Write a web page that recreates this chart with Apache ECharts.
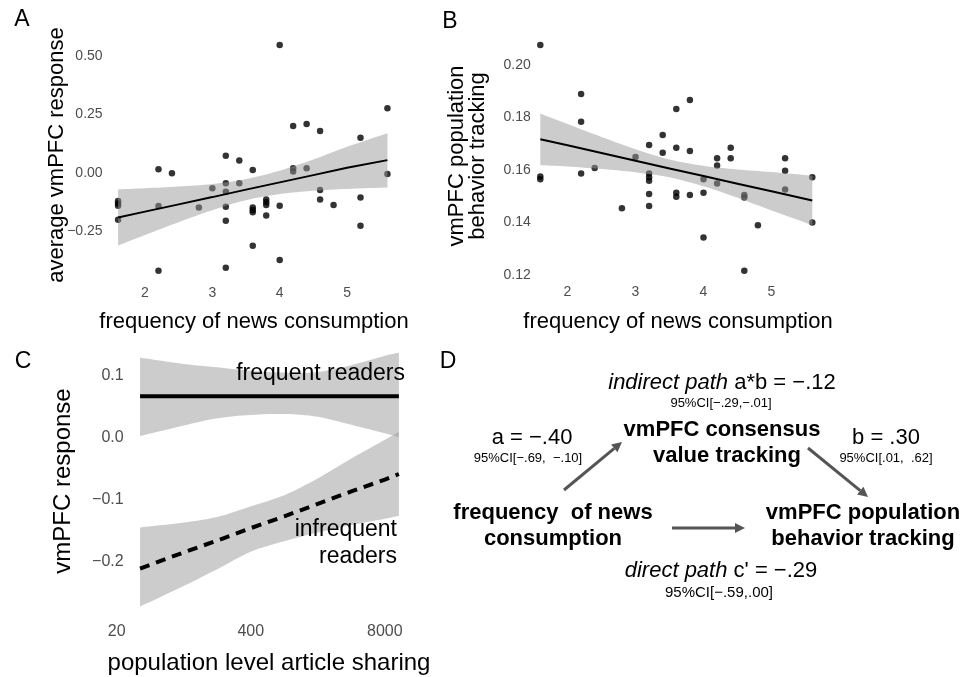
<!DOCTYPE html>
<html><head><meta charset="utf-8">
<script src="https://cdn.jsdelivr.net/npm/echarts@6/dist/echarts.min.js"></script>
<style>html,body{margin:0;padding:0;background:#fff}#c{width:969px;height:677px}</style>
</head><body><div id="c"></div>
<script>
// ---------- Panel A: frequency of news consumption vs average vmPFC response ----------
const aNewsFreq = [1.6,1.6,1.6,1.6,2.2,2.2,2.2,2.4,2.8,3.0,3.2,3.2,3.2,3.2,3.2,3.2,3.4,3.4,3.6,3.6,3.6,3.6,3.6,3.8,3.8,3.8,3.8,4.0,4.0,4.0,4.2,4.2,4.2,4.4,4.4,4.6,4.6,4.6,4.8,5.2,5.2,5.2,5.6,5.6];
const aResponse = [-0.12,-0.13,-0.14,-0.20,0.016,-0.141,-0.418,-0.001,-0.147,-0.065,0.074,-0.044,-0.080,-0.144,-0.204,-0.405,0.053,-0.044,0.013,-0.147,-0.158,-0.168,-0.311,-0.113,-0.125,-0.137,-0.182,0.547,-0.140,-0.372,0.201,0.020,0.006,0.209,0.020,0.180,-0.073,-0.113,-0.137,0.151,-0.105,-0.225,0.277,-0.004];
const fitX = [1.6,2.0,2.5,3.0,3.5,4.0,4.5,5.0,5.6];
const aFit   = [-0.19,-0.165,-0.134,-0.103,-0.071,-0.040,-0.009,0.022,0.055];
const aUpper = [-0.07,-0.065,-0.058,-0.047,-0.026,0.010,0.058,0.112,0.170];
const aLower = [-0.31,-0.265,-0.210,-0.159,-0.116,-0.090,-0.076,-0.068,-0.062];
const aTicksX = [2,3,4,5];
const aTicksY = [-0.25,0,0.25,0.5];

// ---------- Panel B: frequency of news consumption vs vmPFC population behavior tracking ----------
const bNewsFreq = [1.6,1.6,1.6,2.2,2.2,2.2,2.4,2.8,3.0,3.2,3.2,3.2,3.2,3.2,3.2,3.4,3.4,3.6,3.6,3.6,3.6,3.8,3.8,3.8,4.0,4.0,4.0,4.2,4.2,4.2,4.4,4.4,4.6,4.6,4.6,4.8,5.2,5.2,5.2,5.6,5.6];
const bTracking = [0.2076,0.1575,0.1565,0.189,0.1784,0.1587,0.1608,0.1454,0.165,0.1695,0.1587,0.1572,0.1559,0.1509,0.1463,0.1733,0.1666,0.1832,0.1685,0.1513,0.1498,0.1867,0.1672,0.1505,0.1565,0.1513,0.1343,0.1645,0.1617,0.1549,0.1685,0.1645,0.1505,0.1495,0.1216,0.139,0.1645,0.1597,0.1526,0.1572,0.140];
const bFit   = [0.1717,0.1694,0.1665,0.1635,0.1606,0.1577,0.1548,0.1519,0.1484];
const bUpper = [0.1815,0.1775,0.1726,0.1679,0.1640,0.1616,0.1602,0.1592,0.1578];
const bLower = [0.1619,0.1613,0.1604,0.1591,0.1572,0.1538,0.1494,0.1446,0.1390];
const bTicksX = [2,3,4,5];
const bTicksY = [0.12,0.14,0.16,0.18,0.20];

// ---------- Panel C: population level article sharing (log) vs vmPFC response ----------
const sharing = [33.7,89.4,189,400,846,1789,3783,8000,10950];
const freqFit   = [0.066,0.066,0.066,0.066,0.066,0.066,0.066,0.066,0.066];
const freqUpper = [0.128,0.118,0.1125,0.107,0.104,0.105,0.116,0.131,0.136];
const freqLower = [0.002,0.019,0.0305,0.036,0.0375,0.033,0.020,0.0065,0.000];
const infreqFit   = [-0.211,-0.185,-0.166,-0.146,-0.127,-0.107,-0.087,-0.068,-0.059];
const infreqUpper = [-0.145,-0.137,-0.128,-0.111,-0.093,-0.066,-0.034,-0.004,0.009];
const infreqLower = [-0.272,-0.239,-0.212,-0.184,-0.167,-0.153,-0.141,-0.131,-0.126];
const cTicksX = [20,400,8000];
const cTicksY = [-0.2,-0.1,0,0.1];

const FONT = '"Liberation Sans", Arial, Helvetica, sans-serif';
const BAND = 'rgba(153,153,153,0.5)';
const minus = s => s.replace('-', '\u2212');
const near = (v, list) => list.some(t => Math.abs(v - t) <= 1e-6 * Math.max(1, Math.abs(t)));

function pairs(xs, ys){ return xs.map((x,i)=>[x, ys[i]]); }

// Catmull-Rom smoothing of pixel points (visual only)
function smoothPts(p){
  const out=[];
  for(let i=0;i<p.length-1;i++){
    const p0=p[Math.max(0,i-1)], p1=p[i], p2=p[i+1], p3=p[Math.min(p.length-1,i+2)];
    for(let k=0;k<8;k++){
      const t=k/8, t2=t*t, t3=t2*t;
      out.push([0,1].map(d=>0.5*((2*p1[d])+(-p0[d]+p2[d])*t+(2*p0[d]-5*p1[d]+4*p2[d]-p3[d])*t2+(-p0[d]+3*p1[d]-3*p2[d]+p3[d])*t3)));
    }
  }
  out.push(p[p.length-1]);
  return out;
}
function band(idx, xs, lo, hi){
  return {type:'custom', xAxisIndex:idx, yAxisIndex:idx, z:2, silent:true,
    data: xs.map((x,i)=>[x, lo[i], hi[i]]),
    encode:{x:0, y:[1,2]},
    renderItem:function(params, api){
      if(params.dataIndex!==0) return null;
      const up = smoothPts(xs.map((x,i)=>api.coord([x, hi[i]])));
      const dn = smoothPts(xs.map((x,i)=>api.coord([x, lo[i]]))).reverse();
      return {type:'polygon', shape:{points:up.concat(dn)}, style:{fill:BAND}};
    }};
}
const hidden = {axisLine:{show:false}, axisTick:{show:false}, splitLine:{show:false}};
const lbl = (size, margin, fmt) => ({color:'#4d4d4d', fontSize:size, fontFamily:FONT, margin, formatter:fmt});

function txt(x, y, text, size, o){
  o = o || {};
  return {type:'text', x, y, rotation:o.rot||0, z:10,
    style:{text, fill:'#000', fontSize:size, fontFamily:FONT, fontWeight:o.bold?'bold':'normal',
      fontStyle:o.italic?'italic':'normal', align:o.align||'center', verticalAlign:'middle',
      lineHeight:o.lh||size, rich:o.rich}};
}
function arrow(x1,y1,x2,y2){
  const a=Math.atan2(y2-y1,x2-x1), L=10, W=5;
  const bx=x2-L*Math.cos(a), by=y2-L*Math.sin(a);
  return [
    {type:'line', z:10, shape:{x1,y1,x2:bx,y2:by}, style:{stroke:'#555',lineWidth:3}},
    {type:'polygon', z:10, shape:{points:[[x2,y2],[bx+W*Math.sin(a),by-W*Math.cos(a)],[bx-W*Math.sin(a),by+W*Math.cos(a)]]}, style:{fill:'#555'}}
  ];
}
const rich22 = {
  i:{fontStyle:'italic', fontSize:22, fontFamily:FONT, fill:'#000'},
  n:{fontSize:22, fontFamily:FONT, fill:'#000'}
};

const chart = echarts.init(document.getElementById('c'), null, {renderer:'canvas'});
chart.setOption({
  animation:false,
  backgroundColor:'#fff',
  grid:[
    {left:104.6, top:32.6, width:296.3, height:257.4, outerBoundsMode:'none', containLabel:false},
    {left:526.7, top:33.5, width:299.2, height:241.5, outerBoundsMode:'none', containLabel:false},
    {left:116.7, top:344, width:282.2, height:279.9, outerBoundsMode:'none', containLabel:false}
  ],
  xAxis:[
    Object.assign({type:'value', gridIndex:0, min:1.4, max:5.8,
      axisLabel:lbl(14, -4, v => near(v, aTicksX) ? String(Math.round(v)) : '')}, hidden),
    Object.assign({type:'value', gridIndex:1, min:1.4, max:5.8,
      axisLabel:lbl(14, 10.5, v => near(v, bTicksX) ? String(Math.round(v)) : '')}, hidden),
    Object.assign({type:'log', logBase:20, gridIndex:2, min:20, max:10950,
      axisLabel:lbl(16, 0, v => near(v, cTicksX) ? String(Math.round(v)) : '')}, hidden)
  ],
  yAxis:[
    Object.assign({type:'value', gridIndex:0, min:-0.5, max:0.6, interval:0.25,
      axisLabel:lbl(14, 2, v => near(v, aTicksY) ? minus(v.toFixed(2)) : '')}, hidden),
    Object.assign({type:'value', gridIndex:1, min:0.12, max:0.212, interval:0.02,
      axisLabel:lbl(14, -4, v => near(v, bTicksY) ? v.toFixed(2) : '')}, hidden),
    Object.assign({type:'value', gridIndex:2, min:-0.3, max:0.15, interval:0.1,
      axisLabel:lbl(16, -7, v => near(v, cTicksY) ? minus(v.toFixed(1)) : '')}, hidden)
  ],
  series:[
    {type:'scatter', xAxisIndex:0, yAxisIndex:0, data:pairs(aNewsFreq, aResponse), symbolSize:6.5, itemStyle:{color:'#000'}, z:1, silent:true},
    band(0, fitX, aLower, aUpper),
    {type:'line', xAxisIndex:0, yAxisIndex:0, data:pairs(fitX, aFit), symbol:'none', lineStyle:{color:'#000', width:2}, z:3, silent:true},

    {type:'scatter', xAxisIndex:1, yAxisIndex:1, data:pairs(bNewsFreq, bTracking), symbolSize:6.5, itemStyle:{color:'#000'}, z:1, silent:true},
    band(1, fitX, bLower, bUpper),
    {type:'line', xAxisIndex:1, yAxisIndex:1, data:pairs(fitX, bFit), symbol:'none', lineStyle:{color:'#000', width:2}, z:3, silent:true},

    band(2, sharing, freqLower, freqUpper),
    band(2, sharing, infreqLower, infreqUpper),
    {type:'line', xAxisIndex:2, yAxisIndex:2, data:pairs(sharing, freqFit), symbol:'none', lineStyle:{color:'#000', width:4}, z:3, silent:true},
    {type:'line', xAxisIndex:2, yAxisIndex:2, data:pairs(sharing, infreqFit), symbol:'none', lineStyle:{color:'#000', width:4, type:[10,7]}, z:3, silent:true}
  ],
  graphic:[
    txt(22, 20, 'A', 23), txt(450, 22, 'B', 23), txt(23, 362, 'C', 23), txt(448, 362, 'D', 23),
    txt(57, 155, 'average vmPFC response', 22, {rot:Math.PI/2}),
    txt(254, 322, 'frequency of news consumption', 22),
    txt(467, 156, 'vmPFC population\nbehavior tracking', 22, {rot:Math.PI/2, lh:21}),
    txt(678, 322, 'frequency of news consumption', 22),
    txt(63, 481, 'vmPFC response', 24, {rot:Math.PI/2}),
    txt(269, 663, 'population level article sharing', 24),
    txt(405, 374, 'frequent readers', 23, {align:'right'}),
    txt(397, 530, 'infrequent', 23, {align:'right'}),
    txt(397, 557, 'readers', 23, {align:'right'}),
    txt(722, 383, '{i|indirect path} {n|a*b = \u2212.12}', 22, {rich:rich22}),
    txt(721, 403, '95%CI[\u2212.29,\u2212.01]', 13),
    txt(722, 430, 'vmPFC consensus', 22, {bold:true}),
    txt(727, 456, 'value tracking', 22, {bold:true}),
    txt(532, 438, 'a = \u2212.40', 22),
    txt(528, 458, '95%CI[\u2212.69,  \u2212.10]', 13),
    txt(886, 438, 'b = .30', 22),
    txt(886, 458, '95%CI[.01,  .62]', 13),
    txt(553, 513, 'frequency  of news', 22, {bold:true}),
    txt(553, 539, 'consumption', 22, {bold:true}),
    txt(863, 513, 'vmPFC population', 22, {bold:true}),
    txt(863, 539, 'behavior tracking', 22, {bold:true}),
    txt(721, 571, "{i|direct path} {n|c' = \u2212.29}", 22, {rich:rich22}),
    txt(719, 593, '95%CI[\u2212.59,.00]', 15),
    ...arrow(564, 490, 622, 442),
    ...arrow(808, 448, 868, 497),
    ...arrow(672, 528, 745, 528)
  ]
});
</script></body></html>
